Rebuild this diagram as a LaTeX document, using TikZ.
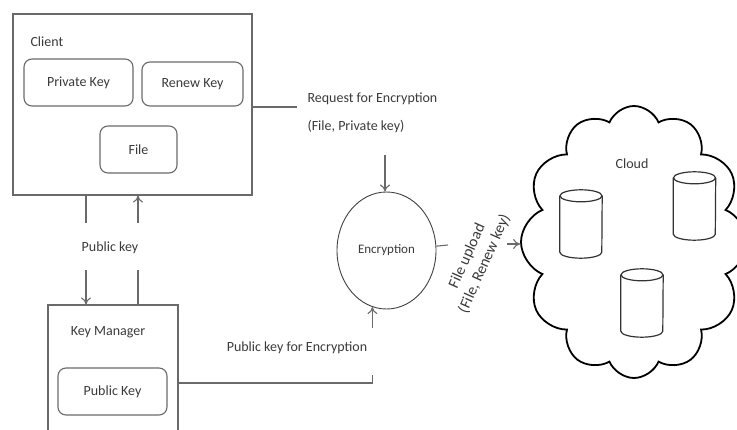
\documentclass[tikz,border=0pt]{standalone}
\usepackage{fontspec}
\setmainfont{Carlito}
\usetikzlibrary{shapes.geometric,shapes.symbols,arrows.meta}
\definecolor{txt}{HTML}{3A3A3A}
\definecolor{ln}{HTML}{6A6A6A}
\begin{document}
\begin{tikzpicture}[x=1pt,y=-1pt,
  every node/.style={font=\fontsize{14}{17}\selectfont, text=txt},
  outerbox/.style={draw=ln, line width=1.1pt, inner sep=0pt},
  keybox/.style={draw=ln, line width=1.1pt, rounded corners=8pt, inner sep=0pt},
  conn/.style={draw=ln, line width=1.1pt},
  arr/.style={conn, -{To[length=7pt,width=10pt]}},
  dbline/.style={draw=black!80, line width=1.2pt},
  dbnode/.style={minimum width=42, minimum height=68, inner sep=0pt},
]
\useasboundingbox (0,0) rectangle (737,430);
% Client
\node[outerbox, minimum width=239, minimum height=181] (client) at (132.5,104.5) {};
\node[anchor=west] (clientlbl) at (27,42) {Client};
\node[keybox, minimum width=109, minimum height=47] (priv) at (78.5,82.5) {Private Key};
\node[keybox, minimum width=101, minimum height=44] (renew) at (192.5,84) {Renew Key};
\node[keybox, minimum width=77, minimum height=47] (file) at (138.5,149.5) {File};
% Key manager
\node[outerbox, minimum width=130, minimum height=140] (km) at (113,375) {};
\node (kmlbl) at (108,332) {Key Manager};
\node[keybox, minimum width=109, minimum height=47] (pub) at (112.5,391.5) {Public Key};
% Public key exchange
\coordinate (pkd1) at (86,223);
\coordinate (pkd2) at (86,270);
\coordinate (pku1) at (138,270);
\coordinate (pku2) at (138,223);
\draw[conn] (client.south -| pkd1) -- (pkd1);
\draw[arr] (pkd2) -- (km.north -| pkd2);
\draw[conn] (km.north -| pku1) -- (pku1);
\draw[arr] (pku2) -- (client.south -| pku2);
\node (pklbl) at (110,248) {Public key};
% Encryption
\node[draw=black!75, line width=0.9pt, ellipse, minimum width=99, minimum height=117, inner sep=0pt] (enc) at (386.5,250.5) {\fontsize{13}{15}\selectfont Encryption};
% Request
\coordinate (reqend) at (297,107);
\draw[conn] (client.east |- reqend) -- (reqend);
\node[anchor=west, align=left] (reqlbl) at (304,112.5) {Request for Encryption\\[11pt](File, Private key)};
\coordinate (reqarr) at (385,155);
\draw[arr] (reqarr) -- (reqarr |- enc.north);
% Public key for encryption
\coordinate (pke1) at (0,383);
\coordinate (pke2) at (0,375);
\coordinate (pke3) at (0,328);
\draw[conn] (km.east |- pke1) -- (enc.256 |- pke1) -- (enc.256 |- pke2);
\draw[arr] (enc.256 |- pke3) -- (enc.256);
\node (pkelbl) at (297,348) {Public key for Encryption};
% Upload
\coordinate (stubend) at (448,245);
\draw[conn] (enc.5) -- (stubend);
\node[rotate=66, align=center, font=\fontsize{15.5}{19}\selectfont] (upl) at (476,260) {File upload\\(File, Renew key)};
% Cloud
\node[cloud, draw=black, line width=1.8pt, cloud puffs=12, cloud puff arc=135, minimum width=226, minimum height=272] (cloud) at (634,242) {};
\coordinate (cinstart) at (507,244);
\draw[arr] (cinstart) -- (cloud.west |- cinstart);
\node (cloudlbl) at (632,164) {Cloud};
% Databases
\foreach \n/\cx/\cy in {db1/581/224, db2/694.5/206, db3/642/303}{
  \node[dbnode] (\n) at (\cx,\cy) {};
  \draw[dbline] (\n.north west) ++(0,6) -- ([yshift=6pt]\n.south west) arc[start angle=180, end angle=0, x radius=21, y radius=6] -- ([yshift=-6pt]\n.north east);
  \draw[dbline] ([yshift=-6pt]\n.north) ellipse[x radius=21, y radius=6];
}
\end{tikzpicture}
\end{document}
